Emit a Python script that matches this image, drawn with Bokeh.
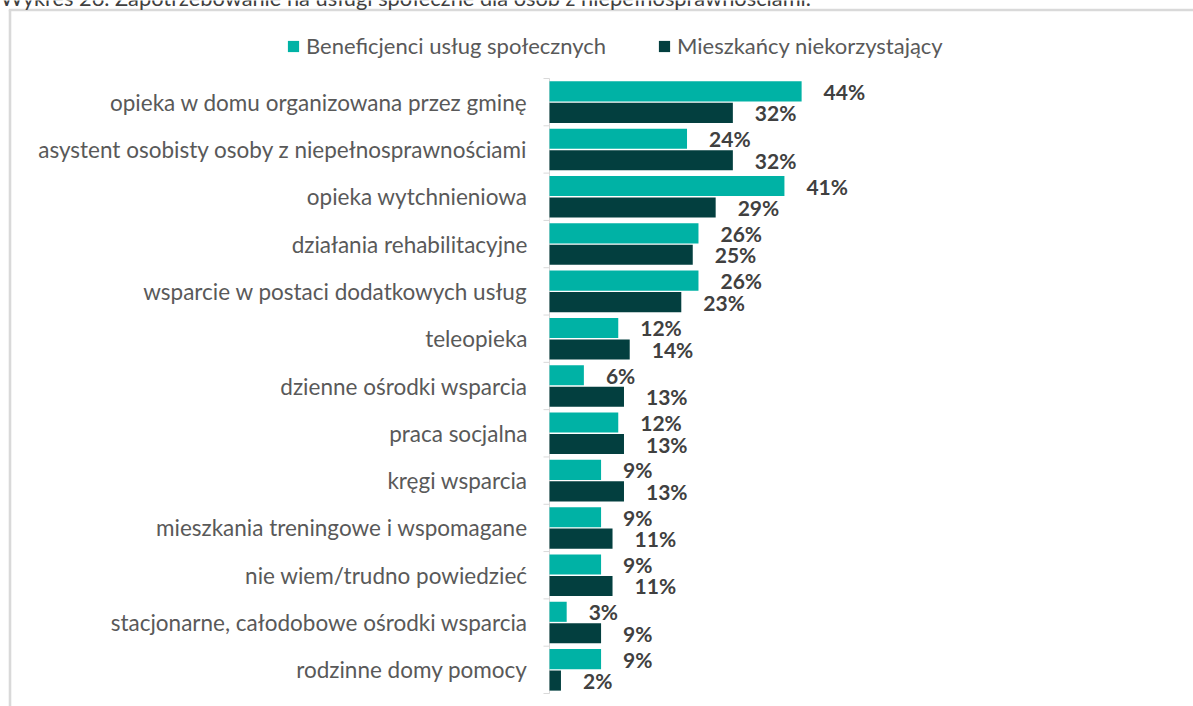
from bokeh.plotting import figure
from bokeh.models import (ColumnDataSource, Range1d, Legend, LegendItem, Label)
from bokeh.core.properties import value
from bokeh.embed import file_html
from bokeh.resources import INLINE

categories = [
    "opieka w domu organizowana przez gminę",
    "asystent osobisty osoby z niepełnosprawnościami",
    "opieka wytchnieniowa",
    "działania rehabilitacyjne",
    "wsparcie w postaci dodatkowych usług",
    "teleopieka",
    "dzienne ośrodki wsparcia",
    "praca socjalna",
    "kręgi wsparcia",
    "mieszkania treningowe i wspomagane",
    "nie wiem/trudno powiedzieć",
    "stacjonarne, całodobowe ośrodki wsparcia",
    "rodzinne domy pomocy",
]
beneficjenci = [44, 24, 41, 26, 26, 12, 6, 12, 9, 9, 9, 3, 9]
mieszkancy = [32, 32, 29, 25, 23, 14, 13, 13, 13, 11, 11, 9, 2]
series_names = ["Beneficjenci usług społecznych", "Mieszkańcy niekorzystający"]
title_text = "Wykres 26. Zapotrzebowanie na usługi społeczne dla osób z niepełnosprawnościami."

TEAL = "#00B2A5"
DARK = "#033F3F"
GRID = "#D9D9D9"
FONT = "Lato"

W, H = 1193, 706
X0_PX = 549          # pixel position of 0 %
PX_PER_PCT = 5.73
TOP_PX = 78          # top of category area
BAND_PX = 615 / 13   # height of one category band

n = len(categories)
idx = list(range(n))


def xd(px):
    return (px - X0_PX) / PX_PER_PCT


def yd(py):
    return (py - TOP_PX) / BAND_PX


p = figure(width=W, height=H, output_backend="svg", toolbar_location=None,
           x_range=Range1d(xd(0), xd(W)), y_range=Range1d(yd(H), yd(0)),
           x_axis_location=None, y_axis_location=None,
           min_border=0, min_border_left=0, min_border_right=0,
           min_border_top=0, min_border_bottom=0)
p.outline_line_color = None
p.grid.visible = False
p.background_fill_color = "white"
p.border_fill_color = "white"

# chart-area border (cropped frame of the original chart)
p.segment(x0=[xd(9.5), xd(8.3)], y0=[yd(9.5), yd(9.5)],
          x1=[xd(9.5), xd(W + 5)], y1=[yd(H + 5), yd(9.5)],
          line_color=GRID, line_width=2.6)

# category axis: line and boundary ticks
p.segment(x0=[0], y0=[0], x1=[0], y1=[n], line_color=GRID, line_width=1)
p.segment(x0=[0] * (n + 1), y0=list(range(n + 1)), x1=[-6 / PX_PER_PCT] * (n + 1),
          y1=list(range(n + 1)), line_color=GRID, line_width=1)

src1 = ColumnDataSource(dict(y=[i + 0.5 - 0.227 for i in idx], v=beneficjenci,
                             lab=[f"{v}%" for v in beneficjenci]))
src2 = ColumnDataSource(dict(y=[i + 0.5 + 0.227 for i in idx], v=mieszkancy,
                             lab=[f"{v}%" for v in mieszkancy]))

r1 = p.hbar(y="y", right="v", left=0, height=0.425, source=src1,
            fill_color=TEAL, line_color=None)
r2 = p.hbar(y="y", right="v", left=0, height=0.425, source=src2,
            fill_color=DARK, line_color=None)

for s in (src1, src2):
    p.text(x="v", y="y", text="lab", source=s, x_offset=22, text_align="left",
           text_baseline="middle", text_font=value(FONT), text_font_style="bold",
           text_font_size="21px", text_color="#404040")

csrc = ColumnDataSource(dict(y=[i + 0.5 for i in idx], name=categories))
p.text(x=0, y="y", text="name", source=csrc, x_offset=-22, text_align="right",
       text_baseline="middle", text_font=value(FONT), text_font_size="22.5px",
       text_color="#595959")

legend = Legend(items=[LegendItem(label=series_names[0], renderers=[r1]),
                       LegendItem(label=series_names[1], renderers=[r2])],
                orientation="horizontal", location=(286, H - 59), spacing=51,
                glyph_width=14, glyph_height=14, label_standoff=6, padding=0, margin=0,
                border_line_color=None, background_fill_alpha=0,
                label_text_font=FONT, label_text_font_size="22px",
                label_text_color="#595959")
p.add_layout(legend, "center")

p.add_layout(Label(x=xd(0), y=yd(-3), text=title_text,
                   text_font=FONT, text_font_size="21.8px", text_color="#404040",
                   text_baseline="alphabetic"))

open("out.html", "w").write(file_html(p, INLINE))
